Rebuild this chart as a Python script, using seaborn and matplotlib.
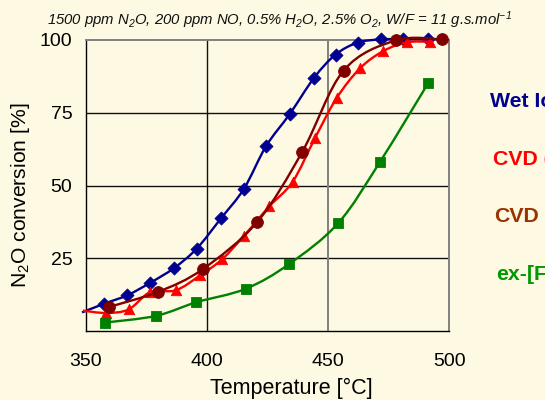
import numpy as np
import matplotlib
matplotlib.use("Agg")
import matplotlib.pyplot as plt
from matplotlib.path import Path
from matplotlib.patches import PathPatch
import seaborn as sns

# N2O conversion vs. temperature for four Fe-zeolite preparations
wet_temp = [348.5, 357.7, 367.2, 376.5, 386.4, 395.8, 405.8, 415.3, 424.4, 434.3,
            444.3, 453.1, 462.2, 471.7, 480.9, 491.2]
wet_conv = [6.4, 9.4, 12.3, 16.5, 21.6, 28.3, 38.7, 48.9, 63.5, 74.7,
            87.1, 95.0, 99.1, 100.2, 100.3, 100.3]

cvd_a_temp = [348.9, 358.4, 367.7, 376.7, 387.2, 397.2, 406.2, 415.3, 425.7, 435.4,
              444.6, 453.5, 463.2, 472.8, 482.4, 492.0]
cvd_a_conv = [7.0, 6.2, 7.4, 13.4, 14.0, 19.1, 24.6, 32.7, 42.8, 51.3,
              66.3, 80.0, 90.3, 96.2, 99.2, 99.4]

cvd_b_temp = [359.8, 380.0, 398.2, 420.7, 439.3, 456.4, 478.1, 497.1]
cvd_b_conv = [8.3, 13.5, 21.2, 37.4, 61.5, 89.5, 99.9, 100.2]

ex_temp = [358.0, 379.0, 395.7, 416.0, 433.9, 454.2, 471.4, 491.3]
ex_conv = [2.9, 5.2, 9.9, 14.5, 23.0, 37.1, 58.1, 85.2]

# series captions as they appear at the right-hand edge of the figure
series_labels = ["Wet Io", "CVD (", "CVD", "ex-[F"]
x_ticks = [350, 400, 450, 500]
y_ticks = [25, 50, 75, 100]

BG = "#FDF9E2"
sns.set_theme(style="white")
plt.rcParams["font.family"] = ["Liberation Sans", "DejaVu Sans"]
plt.rcParams["mathtext.default"] = "regular"

fig = plt.figure(figsize=(5.45, 4.0), dpi=100, facecolor=BG)
ax = fig.add_axes([0.1572, 0.1725, 0.6672, 0.7275])
ax.set_facecolor(BG)


def smooth_path(xs, ys):
    """Cubic Bezier path through the points (Catmull-Rom style smoothing)."""
    p = np.column_stack([xs, ys]).astype(float)
    ext = np.vstack([p[0], p, p[-1]])
    verts = [p[0]]
    codes = [Path.MOVETO]
    for i in range(len(p) - 1):
        p0, p1, p2, p3 = ext[i], ext[i + 1], ext[i + 2], ext[i + 3]
        verts += [p1 + (p2 - p0) / 6.0, p2 - (p3 - p1) / 6.0, p2]
        codes += [Path.CURVE4] * 3
    return Path(verts, codes)


series = [
    (wet_temp, wet_conv, "#000090", "D", 44, "#000090"),
    (cvd_a_temp, cvd_a_conv, "#FF0000", "^", 56, "#FF0000"),
    (cvd_b_temp, cvd_b_conv, "#800000", "o", 72, "#993300"),
    (ex_temp, ex_conv, "#008000", "s", 50, "#009900"),
]

for k, (tx, cy, col, mk, ms, _) in enumerate(series):
    patch = PathPatch(smooth_path(tx, cy), facecolor="none", edgecolor=col,
                      lw=1.7, zorder=3 + k, clip_on=False)
    ax.add_patch(patch)
    tx_a = np.asarray(tx)
    cy_a = np.asarray(cy)
    keep = tx_a >= 350
    sns.scatterplot(x=tx_a[keep], y=cy_a[keep], marker=mk, s=ms, color=col,
                    edgecolor=col, linewidth=0.6, ax=ax, zorder=3.5 + k,
                    clip_on=False, legend=False)

ax.set_xlim(350, 500)
ax.set_ylim(0, 100)
ax.set_xticks(x_ticks)
ax.set_yticks(y_ticks)
ax.tick_params(axis="both", which="major", direction="out", length=4.5,
               width=0.9, color="black", labelsize=14, labelcolor="black")
ax.tick_params(axis="x", pad=11)
ax.tick_params(axis="y", pad=5)

# grid lines
for yv in [25, 50, 75]:
    ax.axhline(yv, color="#111111", lw=1.0, zorder=1)
ax.axvline(400, color="#111111", lw=1.0, zorder=1)
ax.axvline(450, color="#808080", lw=1.4, zorder=1)

for side in ["left", "bottom"]:
    ax.spines[side].set_color("black")
    ax.spines[side].set_linewidth(1.0)
for side in ["top", "right"]:
    ax.spines[side].set_color("#808080")
    ax.spines[side].set_linewidth(1.4)

ax.set_xlabel("Temperature [°C]", fontsize=15.5, color="black")
ax.set_ylabel("N$_2$O conversion [%]", fontsize=15.2, color="black")
ax.xaxis.set_label_coords(0.565, -0.162)
ax.yaxis.set_label_coords(-0.147, 0.465)

fig.text(0.513, 0.937,
         "1500 ppm N$_2$O, 200 ppm NO, 0.5% H$_2$O, 2.5% O$_2$, W/F = 11 g.s.mol$^{-1}$",
         ha="center", va="baseline", fontsize=10.7, style="italic", color="#111111")

legend_y = [107, 165, 222, 280]
legend_x = [490.5, 493.3, 494.3, 496.0]
for (lbl, (_, _, _, _, _, tcol), lx, ly) in zip(series_labels, series, legend_x, legend_y):
    fig.text(lx / 545, 1 - ly / 400, lbl, ha="left", va="baseline",
             fontsize=15.3, fontweight="bold", color=tcol)

fig.savefig("out.png", dpi=100, facecolor=BG)
